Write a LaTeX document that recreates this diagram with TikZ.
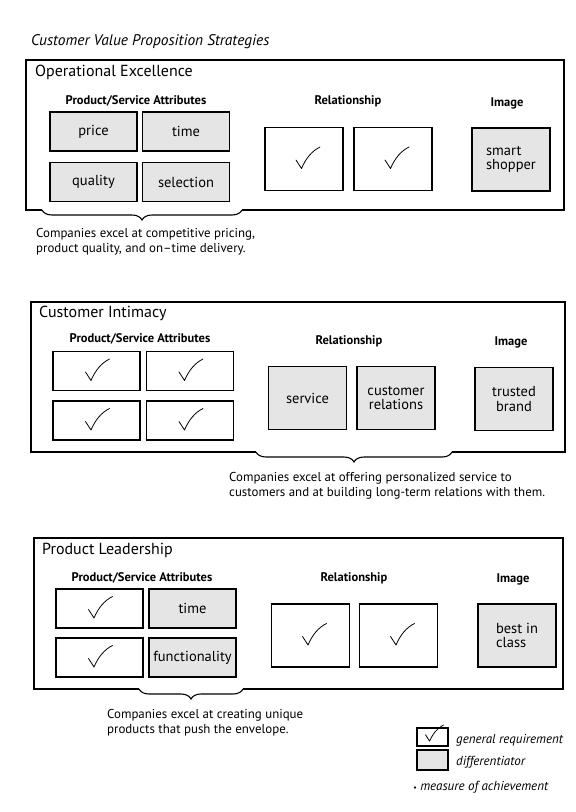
\documentclass[tikz,border=0pt]{standalone}
\usepackage{fontspec}
\setmainfont{PT Sans}
\usetikzlibrary{decorations.pathreplacing}
\tikzset{tick/.pic={\draw[line width=0.8pt,line cap=round,line join=round] (-8,1) -- (-2.5,9.5) .. controls (2,-1) and (8,-8) .. (16,-12);}}
\begin{document}
\begin{tikzpicture}[x=1pt,y=-1pt]
\tikzstyle{every node}=[inner sep=0pt,font=\fontsize{12.9}{15}\selectfont]
\tikzstyle{frame}=[draw,line width=1.1pt]
\tikzstyle{attr}=[draw,line width=1.1pt,minimum width=87pt,minimum height=39pt,font=\fontsize{14.5}{14}\selectfont]
\tikzstyle{rel}=[draw,line width=1.1pt,minimum width=78pt,minimum height=63pt,font=\fontsize{14.5}{14.5}\selectfont]
\tikzstyle{diff}=[fill=black!10]
\tikzstyle{panel}=[anchor=west,font=\fontsize{16}{18}\selectfont]
\tikzstyle{head}=[font=\fontsize{12.5}{14}\selectfont\bfseries]
\tikzstyle{note}=[anchor=north west,align=left]
\tikzstyle{legend}=[anchor=west,font=\fontsize{13}{14}\selectfont\itshape]
\tikzstyle{brc}=[decorate,decoration={brace,amplitude=10pt},line width=1.1pt]
\useasboundingbox (0,0) rectangle (576,812);
\node[anchor=west,font=\fontsize{15.4}{17}\selectfont\itshape] (ttl) at (31,42) {Customer Value Proposition Strategies};

\coordinate (oe-bl) at (42,210);
\coordinate (oe-br) at (242,210);
\draw[frame] (oe-bl) -| (26,60) -| (564,210) -- (oe-br);
\draw[brc] (oe-br) -- (oe-bl);
\node[panel] (oe) at (35,72) {Operational Excellence};
\node[head] (oe-psa) at (136,101) {Product/Service Attributes};
\node[head] (oe-rh) at (348,101) {Relationship};
\node[head] (oe-ih) at (507,103) {Image};
\node[attr,diff] (oe-a1) at (93.5,131.5) {price};
\node[attr,diff] (oe-a2) at (186,131.5) {time};
\node[attr,diff] (oe-a3) at (93.5,182) {quality};
\node[attr,diff] (oe-a4) at (186,182) {selection};
\node[rel] (oe-r1) at (304,159) {};
\node[rel] (oe-r2) at (393,159) {};
\node[rel,diff,align=left] (oe-im) at (511,159.5) {smart\\shopper};
\pic at (oe-r1) {tick};
\pic at (oe-r2) {tick};
\node[note] (oe-txt) at (36,228) {Companies excel at competitive pricing,\\product quality, and on--time delivery.};

\coordinate (ci-bl) at (256,452);
\coordinate (ci-br) at (452,452);
\draw[frame] (ci-bl) -| (31,302) -| (565,452) -- (ci-br);
\draw[brc] (ci-br) -- (ci-bl);
\node[panel] (ci) at (39,313) {Customer Intimacy};
\node[head] (ci-psa) at (140,339) {Product/Service Attributes};
\node[head] (ci-rh) at (349,341) {Relationship};
\node[head] (ci-ih) at (511,342) {Image};
\node[attr] (ci-a1) at (96.5,371) {};
\node[attr] (ci-a2) at (190,371) {};
\node[attr] (ci-a3) at (96.5,420.5) {};
\node[attr] (ci-a4) at (190,420.5) {};
\pic at ([xshift=-3pt]ci-a1.center) {tick};
\pic at ([xshift=-3pt]ci-a2.center) {tick};
\pic at ([xshift=-3pt]ci-a3.center) {tick};
\pic at ([xshift=-3pt]ci-a4.center) {tick};
\node[rel,diff] (ci-r1) at (307.5,398) {service};
\node[rel,diff,align=center] (ci-r2) at (396,398) {customer\\relations};
\node[rel,diff,align=center] (ci-im) at (514,399) {trusted\\brand};
\node[note] (ci-txt) at (229,472) {Companies excel at offering personalized service to\\customers and at building long-term relations with them.};

\coordinate (pl-bl) at (139,689);
\coordinate (pl-br) at (243,689);
\draw[frame] (pl-bl) -| (34,538) -| (563,689) -- (pl-br);
\draw[brc] (pl-br) -- (pl-bl);
\node[panel] (pl) at (42,550) {Product Leadership};
\node[head] (pl-psa) at (142,578) {Product/Service Attributes};
\node[head] (pl-rh) at (354,578) {Relationship};
\node[head] (pl-ih) at (513,579) {Image};
\node[attr] (pl-a1) at (99.5,608.5) {};
\node[attr,diff] (pl-a2) at (192.5,608.5) {time};
\node[attr] (pl-a3) at (99.5,657.5) {};
\node[attr,diff] (pl-a4) at (192.5,657.5) {functionality};
\pic at ([xshift=-3pt]pl-a1.center) {tick};
\pic at ([xshift=-3pt]pl-a3.center) {tick};
\node[rel] (pl-r1) at (310.5,635.5) {};
\node[rel] (pl-r2) at (398.5,635.5) {};
\node[rel,diff,align=left] (pl-im) at (517,635.5) {best in\\class};
\pic at (pl-r1) {tick};
\pic at (pl-r2) {tick};
\node[note] (pl-txt) at (107,709) {Companies excel at creating unique\\products that push the envelope.};

\node[draw,line width=1.1pt,minimum width=31pt,minimum height=18pt] (lg1) at (432.5,737) {};
\pic[scale=0.75] at ([shift={(-1,-3)}]lg1.center) {tick};
\node[legend] (lg1-t) at (456,740) {general requirement};
\node[draw,diff,line width=1.1pt,minimum width=31pt,minimum height=20pt] (lg2) at (432.5,760) {};
\node[legend] (lg2-t) at (456,762) {differentiator};
\node[legend] (lg3) at (413,787) {{\fontsize{8}{8}\selectfont\textbullet}\ measure of achievement};
\end{tikzpicture}
\end{document}
